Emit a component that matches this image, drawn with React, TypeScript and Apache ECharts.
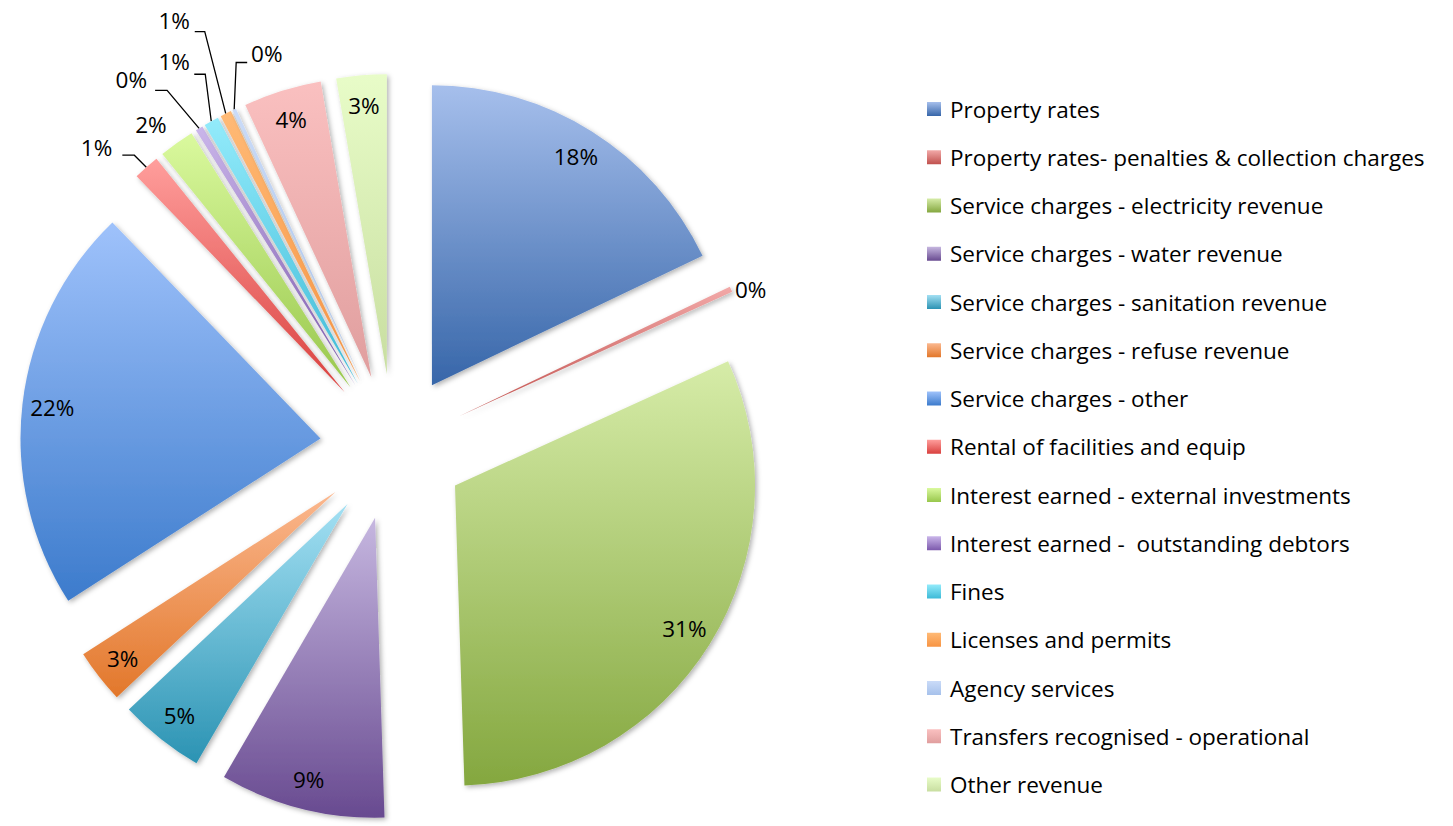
import React, { useEffect, useRef } from "react";
import * as echarts from "echarts";

// ---- data ----
const categories = [
  "Property rates",
  "Property rates- penalties & collection charges",
  "Service charges - electricity revenue",
  "Service charges - water revenue",
  "Service charges - sanitation revenue",
  "Service charges - refuse revenue",
  "Service charges - other",
  "Rental of facilities and equip",
  "Interest earned - external investments",
  "Interest earned -  outstanding debtors",
  "Fines",
  "Licenses and permits",
  "Agency services",
  "Transfers recognised - operational",
  "Other revenue",
];
// share of total revenue, percent
const shares = [17.9, 0.3, 31.3, 8.9, 4.6, 2.9, 21.9, 1.4, 1.9, 0.4, 0.8, 0.6, 0.2, 4.2, 2.7];

// ---- styling ----
const topColors = [
  "#A6BFEC", "#F2A9A8", "#D6ECA8", "#C6B7E0", "#A3E0F3", "#FBB88F", "#9FC2FB",
  "#FF9E9C", "#DAF99E", "#CAB6EA", "#93EBFB", "#FFBA76", "#CADBF8", "#FAC0C0", "#E8FCC8",
];
const bottomColors = [
  "#3766A9", "#C0504D", "#84A73F", "#684A90", "#2B93B3", "#E2772A", "#3C7BCC",
  "#D9403E", "#98C74C", "#7C59AC", "#3DBAD7", "#F79443", "#A6C1EB", "#E09E9E", "#C8DEA0",
];
const insideLabelIdx = [0, 2, 3, 4, 5, 6, 13, 14];
const FONT = "Open Sans";
const FONT_SIZE = 22.5;
const CENTER = [393, 447];
const RADIUS = 300;
const EXPLODE = 73;

// outside label placement for small slices (label anchor via length/length2,
// drawn leader line via leg1 (dx, dy) then horizontal leg2)
const outside: Record<
  number,
  { length: number; length2: number; dist: number; line?: { leg1: [number, number]; leg2: number }; align?: string }
> = {
  1: { length: 0, length2: 0, dist: 4 },
  8: { length: 23, length2: -5.4, dist: 2 },
  7: { length: 26.7, length2: 11.4, dist: 5, line: { leg1: [-12, -12], leg2: -12 } },
  9: { length: 56.7, length2: 17.6, dist: 5, line: { leg1: [-32, -38], leg2: -12 } },
  10: { length: 67.9, length2: -16.8, dist: 5, line: { leg1: [-6, -47], leg2: -11 } },
  11: { length: 104.7, length2: -16.1, dist: 5, line: { leg1: [-21, -82], leg2: -10 } },
  12: { length: 62.4, length2: -48.4, dist: 5, line: { leg1: [2, -47], leg2: 11 }, align: "left" },
};

const grad = (i: number) => ({
  type: "linear",
  x: 0,
  y: 0,
  x2: 0,
  y2: 1,
  colorStops: [
    { offset: 0, color: topColors[i] },
    { offset: 1, color: bottomColors[i] },
  ],
});

const pctFormatter = (p: any) => Math.round(p.percent) + "%";

export default function App() {
  const ref = useRef<HTMLDivElement>(null);
  useEffect(() => {
    if (!ref.current) return;
    const chart = echarts.init(ref.current, null, { renderer: "svg" });

    const mainData = categories.map((name, i) => {
      const item: any = {
        name,
        value: shares[i],
        selected: true,
        itemStyle: { color: grad(i) },
        label: { show: false },
        labelLine: { show: false },
      };
      const o = outside[i];
      if (o) {
        item.label = { show: true, position: "outside", distanceToLabelLine: o.dist };
        item.labelLine = { show: !!o.line, length: o.length, length2: o.length2 };
      }
      return item;
    });

    const labelData = categories.map((name, i) => ({
      name,
      value: shares[i],
      selected: true,
      label: { show: insideLabelIdx.includes(i) },
    }));

    chart.setOption({
      animation: false,
      legend: {
        orient: "vertical",
        left: 927,
        top: 97,
        padding: 0,
        itemWidth: 14,
        itemHeight: 14,
        itemGap: 24.25,
        icon: "rect",
        selectedMode: false,
        itemStyle: { shadowBlur: 0, shadowOffsetX: 0, shadowOffsetY: 0, borderWidth: 0 },
        textStyle: {
          fontFamily: FONT,
          fontSize: FONT_SIZE,
          color: "#000",
          lineHeight: 24,
          padding: [0, 0, 0, 4],
        },
        data: categories,
      },
      series: [
        {
          type: "pie",
          name: "Revenue",
          center: CENTER,
          radius: RADIUS,
          startAngle: 90,
          clockwise: true,
          selectedMode: "multiple",
          selectedOffset: EXPLODE,
          avoidLabelOverlap: false,
          emphasis: { disabled: true },
          itemStyle: {
            shadowBlur: 5,
            shadowOffsetX: 2,
            shadowOffsetY: 2,
            shadowColor: "rgba(0,0,0,0.3)",
          },
          label: {
            fontFamily: FONT,
            fontSize: FONT_SIZE,
            color: "#000",
            formatter: pctFormatter,
          },
          labelLine: { smooth: false, lineStyle: { color: "#000", width: 1.3 } },
          labelLayout: (params: any) => {
            const o = outside[params.dataIndex];
            if (!o || !o.line || !params.labelLinePoints) return {};
            const p0 = params.labelLinePoints[0];
            const p1 = [p0[0] + o.line.leg1[0], p0[1] + o.line.leg1[1]];
            const p2 = [p1[0] + o.line.leg2, p1[1]];
            const res: any = { labelLinePoints: [p0, p1, p2] };
            if (o.align) res.align = o.align;
            return res;
          },
          data: mainData,
        },
        {
          type: "pie",
          name: "Labels",
          center: CENTER,
          radius: [RADIUS * 0.78, RADIUS],
          startAngle: 90,
          clockwise: true,
          selectedMode: "multiple",
          selectedOffset: EXPLODE,
          silent: true,
          legendHoverLink: false,
          avoidLabelOverlap: false,
          emphasis: { disabled: true },
          itemStyle: { color: "rgba(0,0,0,0)" },
          label: {
            position: "inside",
            fontFamily: FONT,
            fontSize: FONT_SIZE,
            color: "#000",
            formatter: pctFormatter,
          },
          labelLine: { show: false },
          data: labelData,
        },
      ],
    });
    return () => chart.dispose();
  }, []);
  return (
    <div
      ref={ref}
      style={{ position: "absolute", left: 0, top: 0, width: 1453, height: 826, background: "#fff" }}
    />
  );
}
